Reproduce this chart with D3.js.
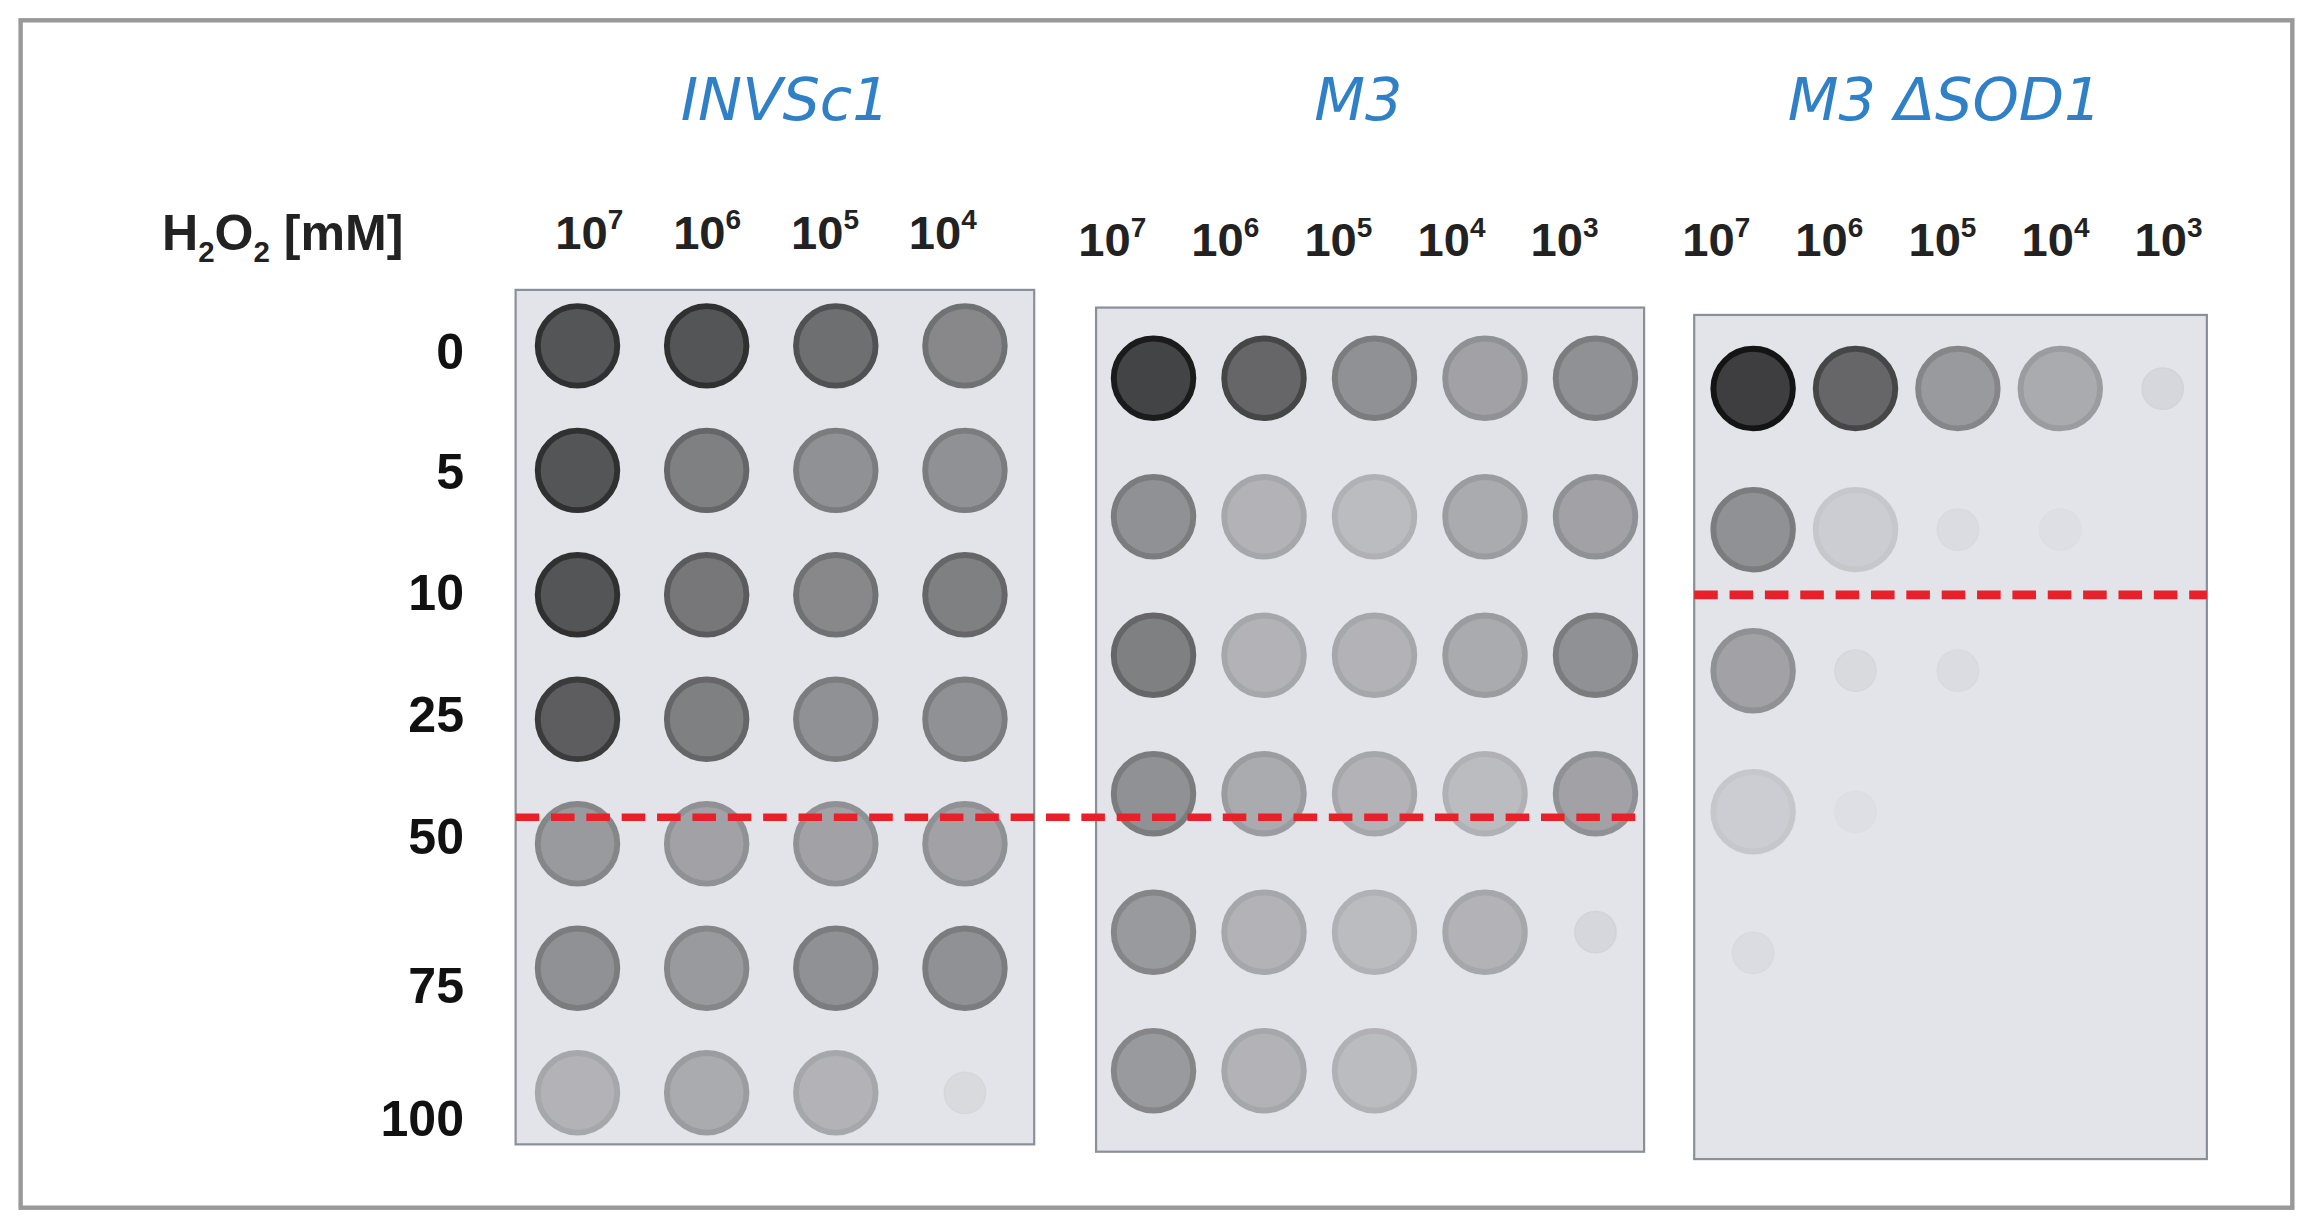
<!DOCTYPE html><html><head><meta charset="utf-8"><script src="https://d3js.org/d3.v7.min.js"></script>
<style>body{margin:0;background:#fff}</style></head><body><svg id="c" width="2310" height="1228" viewBox="0 0 1568 830"></svg>
<script>
const strains=["INVSc1","M3","M3 \u0394SOD1"];
const rowLabels=["0","5","10","25","50","75","100"];
const dil1=["7","6","5","4"], dil2=["7","6","5","4","3"], dil3=["7","6","5","4","3"];
const spots1=[[.85,.85,.7,.55],[.85,.6,.5,.5],[.85,.65,.55,.6],[.8,.6,.5,.5],[.45,.4,.4,.4],[.5,.45,.5,.5],[.3,.35,.3,.1]];
const spots2=[[.95,.75,.5,.4,.5],[.5,.3,.25,.35,.4],[.6,.3,.3,.35,.5],[.5,.35,.3,.25,.4],[.45,.3,.25,.3,.12],[.45,.3,.25,0,0]];
const spots3=[[.98,.75,.45,.35,.12],[.5,.15,.08,.05,0],[.4,.1,.08,0,0],[.15,.05,0,0,0],[.08,0,0,0,0]];
const svg=d3.select("#c");
svg.append("rect").attr("x",14).attr("y",12).attr("width",1542).attr("height",806).attr("fill","#fff").attr("stroke","#999").attr("stroke-width",3);
const panels=[
 {name:strains[0],dil:dil1,spots:spots1,x0:350,x1:702,y0:195,y1:775,cx:[392,655],cy:[233,740],lx:[400,640],ly:155,tx:533},
 {name:strains[1],dil:dil2,spots:spots2,x0:744,x1:1116,y0:207,y1:780,cx:[783,1083],cy:[255,725],lx:[755,1062],ly:160,tx:922},
 {name:strains[2],dil:dil3,spots:spots3,x0:1150,x1:1498,y0:212,y1:785,cx:[1190,1468],cy:[262,645],lx:[1165,1472],ly:160,tx:1320}];
const col=d3.scaleLinear().domain([0,1]).range(["#e6e7ec","#101010"]);
panels.forEach(p=>{
 svg.append("rect").attr("x",p.x0).attr("y",p.y0).attr("width",p.x1-p.x0).attr("height",p.y1-p.y0).attr("fill","#e2e4e9").attr("stroke","#8a909a").attr("stroke-width",1.5);
 svg.append("text").attr("x",p.tx).attr("y",80).attr("text-anchor","middle").attr("font-family","DejaVu Sans").attr("font-style","italic").attr("font-size",40).attr("fill","#2f80c6").text(p.name);
 const xs=d3.scalePoint().domain(d3.range(p.dil.length)).range(p.cx);
 const lxs=d3.scalePoint().domain(d3.range(p.dil.length)).range(p.lx);
 const ys=d3.scalePoint().domain(d3.range(p.spots.length)).range(p.cy);
 p.dil.forEach((d,i)=>{const t=svg.append("text").attr("x",lxs(i)).attr("y",p.ly+12).attr("text-anchor","middle").attr("font-family","Arial,Liberation Sans").attr("font-weight","bold").attr("font-size",32).attr("fill","#222");
  t.append("tspan").text("10");t.append("tspan").attr("font-size",19).attr("dy",-13).text(d);});
 p.spots.forEach((row,r)=>row.forEach((v,c)=>{ if(v<=0)return;
  const rr=v<0.15?14:27;
  svg.append("circle").attr("cx",xs(c)).attr("cy",ys(r)).attr("r",rr).attr("fill",col(v*0.8)).attr("stroke",col(v)).attr("stroke-width",v<0.15?1:4).attr("opacity",v<0.15?0.7:1);
 }));
});
svg.append("text").attr("x",110).attr("y",168).attr("font-family","Arial,Liberation Sans").attr("font-weight","bold").attr("font-size",34).attr("fill","#222")
 .call(t=>{t.append("tspan").text("H");t.append("tspan").attr("font-size",20).attr("dy",8).text("2");t.append("tspan").attr("dy",-8).text("O");t.append("tspan").attr("font-size",20).attr("dy",8).text("2");t.append("tspan").attr("dy",-8).text(" [mM]");});
const ry=[237,318,400,483,566,667,757];
rowLabels.forEach((l,i)=>svg.append("text").attr("x",315).attr("y",ry[i]+12).attr("text-anchor","end").attr("font-family","Arial,Liberation Sans").attr("font-weight","bold").attr("font-size",34).attr("fill","#111").text(l));
svg.append("line").attr("x1",350).attr("x2",1116).attr("y1",553).attr("y2",553).attr("stroke","#e8202a").attr("stroke-width",5).attr("stroke-dasharray","16,8");
svg.append("line").attr("x1",1150).attr("x2",1498).attr("y1",402).attr("y2",402).attr("stroke","#e8202a").attr("stroke-width",6).attr("stroke-dasharray","16,8");
</script></body></html>
